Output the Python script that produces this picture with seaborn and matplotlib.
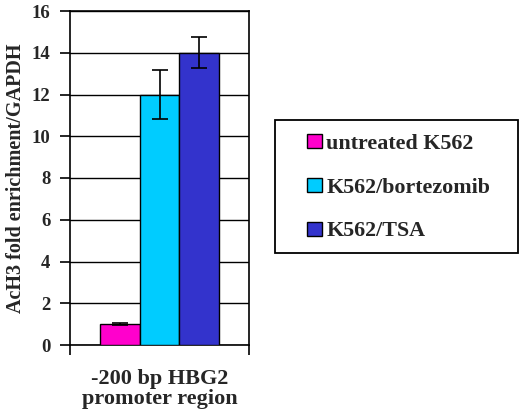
import matplotlib
matplotlib.use("Agg")
import matplotlib.pyplot as plt
import matplotlib.patches as mpatches
import seaborn as sns
import pandas as pd
import numpy as np

region = ["-200 bp HBG2\npromoter region"]
treatments = ["untreated K562", "K562/bortezomib", "K562/TSA"]
values = [1.0, 12.0, 14.0]
errors = [0.05, 1.15, 0.75]
colors = ["#FF00CC", "#00CCFF", "#3333CC"]
yticks = [0, 2, 4, 6, 8, 10, 12, 14, 16]

sns.set_theme(style="white")
plt.rcParams['font.family'] = ['Liberation Serif', 'DejaVu Serif']
plt.rcParams['font.weight'] = 'bold'

df = pd.DataFrame({"region": region * len(treatments),
                   "treatment": treatments,
                   "value": values,
                   "err": errors})

fig = plt.figure(figsize=(5.2, 4.13), dpi=100)
ax = fig.add_axes([70/520, 1-345/413, 179/520, 334/413])

sns.barplot(data=df, x="region", y="value", hue="treatment", palette=colors,
            hue_order=treatments, errorbar=None, width=0.667, saturation=1,
            edgecolor="black", linewidth=1.0, ax=ax, zorder=3)

patches = [p for p in ax.patches if p.get_height() > 0]
patches = sorted(patches, key=lambda p: p.get_x())
for p, v, e in zip(patches, values, errors):
    xc = p.get_x() + p.get_width() / 2
    ax.errorbar(xc, v, yerr=e, fmt="none", ecolor="black", elinewidth=1.2,
                capsize=6, capthick=1.2, zorder=4)

ax.set_xlim(-0.5, 0.5)
ax.set_ylim(0, 16)
ax.set_yticks(yticks)
ax.set_yticklabels([str(t) for t in yticks], fontsize=13.5, fontweight="bold")
ax.yaxis.grid(True, color="black", linewidth=1.0, zorder=0)
ax.set_axisbelow(True)
for s in ax.spines.values():
    s.set_color("black")
    s.set_linewidth(1.2)
    s.set_visible(True)
ax.tick_params(axis="y", which="major", direction="out", length=7, width=1.2,
               color="black", left=True, pad=7)
ax.tick_params(axis="x", which="major", length=0, pad=17, labelsize=16)
for lbl in ax.get_xticklabels():
    lbl.set_fontweight("bold")
    lbl.set_linespacing(1.0)
ax.set_xticks([-0.5, 0.5], minor=True)
ax.tick_params(axis="x", which="minor", direction="out", length=7, width=1.2,
               color="black", bottom=True)
ax.set_xlabel("")
ax.set_ylabel("AcH3 fold enrichment/GAPDH", fontsize=14.5, fontweight="bold",
              labelpad=4)

handles, labels = ax.get_legend_handles_labels()
ax.legend_.remove()
leg = fig.legend(handles, labels, loc="upper left",
                 bbox_to_anchor=(307/520, 1-134/413),
                 frameon=False,
                 prop={"family": "Liberation Serif", "weight": "bold", "size": 15.8},
                 handlelength=0.68, handleheight=0.62, handletextpad=0.2,
                 labelspacing=1.08, borderpad=0.0, borderaxespad=0)
fig.patches.append(mpatches.Rectangle((275/520, 1-253/413), 243/520, 133/413,
                                      transform=fig.transFigure, fill=False,
                                      edgecolor="black", linewidth=1.3))

fig.savefig("out.png", dpi=100)
